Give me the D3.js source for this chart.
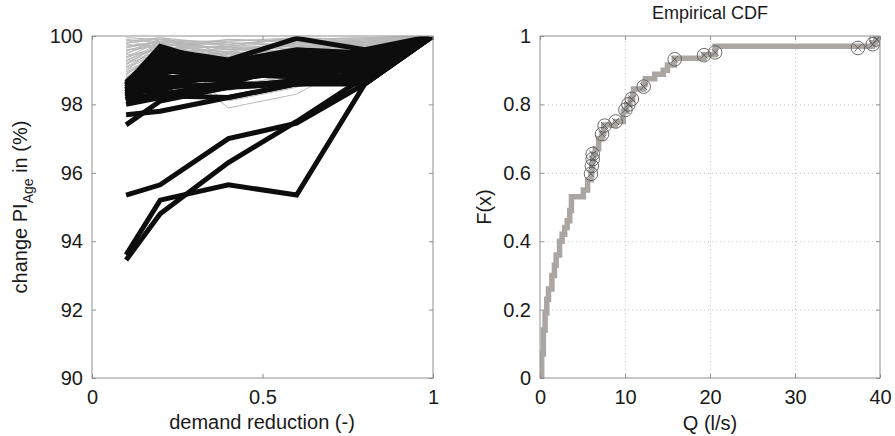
<!DOCTYPE html>
<html>
<head>
<meta charset="utf-8">
<script src="https://cdn.jsdelivr.net/npm/d3@7"></script>
<style>
  body { margin: 0; background: #fff; }
  svg { display: block; font-family: "Liberation Sans", Arial, sans-serif; }
  .tick text { fill: #1a1a1a; font-size: 20px; }
</style>
</head>
<body>
<svg id="chart" width="895" height="436"></svg>
<script>
// left panel: demand reduction vs change of PI_Age
const demandLevels = [0.1, 0.2, 0.4, 0.6, 0.8, 1];

const grayRuns = [
  [99.9, 99.8, 99.85, 99.9, 99.95, 100],
  [99.8, 99.9, 99.7, 99.95, 99.9, 100],
  [99.7, 99.85, 99.6, 99.8, 99.85, 100],
  [99.6, 99.75, 99.65, 99.7, 99.8, 100],
  [99.5, 99.8, 99.5, 99.6, 99.75, 100],
  [99.4, 99.6, 99.55, 99.85, 99.7, 100],
  [99.3, 99.7, 99.4, 99.5, 99.8, 100],
  [99.2, 99.5, 99.45, 99.75, 99.6, 100],
  [99.1, 99.65, 99.3, 99.4, 99.7, 100],
  [99.0, 99.4, 99.5, 99.3, 99.65, 100],
  [98.9, 99.55, 99.2, 99.6, 99.5, 100],
  [98.8, 99.3, 99.35, 99.2, 99.55, 100],
  [98.7, 99.45, 97.9, 98.3, 99.4, 100],
  [98.6, 99.2, 98.1, 98.5, 99.3, 100],
  [98.5, 99.1, 98.9, 98.7, 99.45, 100],
  [98.4, 99.0, 99.1, 99.0, 99.3, 100],
  [98.3, 98.9, 98.6, 98.8, 99.2, 100],
  [99.95, 99.9, 99.8, 99.7, 99.9, 100],
  [99.85, 99.95, 99.75, 99.9, 99.95, 100],
  [99.75, 99.7, 99.9, 99.85, 99.8, 100],
  [99.65, 99.85, 99.85, 99.95, 99.85, 100],
  [99.55, 99.9, 99.6, 99.65, 99.9, 100],
  [99.45, 99.6, 99.7, 99.8, 99.75, 100],
  [99.35, 99.75, 99.65, 99.55, 99.6, 100],
  [99.25, 99.55, 99.25, 99.9, 99.7, 100],
  [99.15, 99.8, 99.45, 99.45, 99.5, 100],
  [99.05, 99.5, 99.15, 99.7, 99.65, 100],
  [98.95, 99.35, 99.55, 99.35, 99.45, 100],
  [98.85, 99.65, 99.0, 99.5, 99.6, 100],
  [98.75, 99.25, 99.3, 99.1, 99.55, 100],
  [99.88, 99.6, 99.9, 99.8, 99.92, 100],
  [99.78, 99.95, 99.5, 99.6, 99.85, 100],
  [99.68, 99.8, 99.75, 99.95, 99.7, 100],
  [99.58, 99.7, 99.8, 99.75, 99.9, 100],
  [99.48, 99.9, 99.4, 99.9, 99.8, 100],
  [99.38, 99.85, 99.6, 99.7, 99.75, 100],
  [99.28, 99.65, 99.7, 99.6, 99.85, 100],
  [99.18, 99.75, 99.35, 99.8, 99.7, 100],
  [99.08, 99.55, 99.6, 99.55, 99.8, 100],
  [98.98, 99.8, 99.4, 99.65, 99.6, 100],
  [98.88, 99.45, 99.65, 99.75, 99.65, 100],
  [98.78, 99.6, 99.2, 99.45, 99.75, 100],
  [98.68, 99.35, 99.5, 99.85, 99.5, 100],
  [98.58, 99.5, 98.8, 98.9, 99.6, 100],
  [98.48, 99.4, 99.25, 99.6, 99.45, 100],
  [98.38, 99.2, 99.4, 99.3, 99.55, 100],
  [98.28, 99.1, 98.4, 99.0, 99.35, 100],
  [98.22, 99.0, 99.2, 99.5, 99.4, 100]
];

const blackRuns = [
  [98.6, 99.7, 99.1, 99.3, 99.4, 100],
  [98.55, 99.6, 99.3, 99.93, 99.6, 100],
  [98.5, 99.5, 99.2, 99.4, 99.5, 100],
  [98.45, 99.4, 99.0, 99.2, 99.3, 100],
  [98.4, 99.3, 99.1, 99.5, 99.2, 100],
  [98.35, 99.2, 98.9, 99.1, 99.1, 100],
  [98.3, 99.1, 99.0, 99.0, 99.0, 100],
  [98.25, 99.0, 98.8, 99.3, 98.9, 100],
  [98.2, 98.9, 99.2, 98.9, 98.8, 100],
  [98.15, 98.8, 98.7, 99.0, 98.7, 100],
  [98.1, 98.7, 98.9, 98.8, 98.6, 100],
  [98.6, 98.5, 98.6, 99.2, 99.0, 100],
  [98.5, 98.6, 98.8, 99.1, 99.2, 100],
  [98.4, 98.4, 99.0, 98.9, 99.1, 100],
  [98.3, 98.2, 98.5, 98.7, 98.8, 100],
  [98.2, 98.3, 98.6, 98.6, 98.7, 100],
  [98.1, 98.25, 98.2, 98.6, 98.6, 100],
  [98.0, 98.2, 98.5, 98.7, 98.9, 100],
  [98.65, 99.55, 99.25, 99.6, 99.5, 100],
  [98.55, 99.45, 99.15, 99.45, 99.35, 100],
  [98.45, 99.35, 98.95, 99.15, 99.25, 100],
  [98.35, 99.25, 99.05, 99.25, 99.05, 100],
  [98.25, 99.15, 98.85, 99.05, 98.95, 100],
  [98.5, 98.95, 99.1, 99.35, 99.15, 100],
  [98.3, 98.75, 98.95, 99.2, 98.85, 100],
  [97.7, 97.8, 98.2, 98.6, 98.7, 100],
  [97.4, 98.1, 98.5, 98.6, 98.9, 100],
  [95.35, 95.65, 97.0, 97.45, 98.6, 100],
  [93.6, 95.2, 95.65, 95.35, 98.6, 100],
  [93.45, 94.8, 96.3, 97.5, 98.8, 100]
];

const leftXTicks = [0, 0.5, 1];
const leftYTicks = [90, 92, 94, 96, 98, 100];

// right panel: empirical CDF of Q
const cdfQ = [0.1, 0.2, 0.4, 0.6, 0.8, 1.0, 1.4, 1.7, 1.9, 2.3, 2.6, 2.9, 3.2, 3.5, 3.7,
  5.1, 5.6, 6.0, 6.1, 6.2, 6.3, 6.5, 6.9, 7.3, 7.5, 8.9, 9.8, 10.2, 10.6, 10.9, 11.0,
  12.2, 12.4, 13.5, 14.5, 15.0, 15.8, 19.3, 20.6, 37.4, 39.1, 39.5, 39.7];
const cdfF = [0, 0.07, 0.14, 0.19, 0.23, 0.26, 0.30, 0.33, 0.36, 0.40, 0.42, 0.44, 0.46, 0.49, 0.53,
  0.55, 0.58, 0.60, 0.62, 0.64, 0.655, 0.67, 0.70, 0.715, 0.74, 0.75, 0.78, 0.80, 0.815, 0.83, 0.845,
  0.86, 0.875, 0.888, 0.90, 0.915, 0.935, 0.945, 0.97, 0.97, 0.98, 0.99, 1.0];

const markQ = [6.0, 6.1, 6.2, 6.2, 7.3, 7.6, 8.9, 10.05, 10.4, 10.8, 12.2, 15.85, 19.3, 20.6, 37.4, 39.15, 39.6];
const markF = [0.597, 0.62, 0.64, 0.655, 0.713, 0.738, 0.75, 0.784, 0.80, 0.816, 0.852, 0.932, 0.944, 0.952, 0.965, 0.976, 0.99];

const qTicks = [0, 10, 20, 30, 40];
const fTicks = [0, 0.2, 0.4, 0.6, 0.8, 1];

const svg = d3.select("#chart");
const axisColor = "#8f8f8f";

function styleAxis(g) {
  g.select(".domain").remove();
  g.selectAll(".tick line").attr("stroke", axisColor);
}

function frame(left, top, w, h, name) {
  const g = svg.append("g").attr("transform", `translate(${left},${top})`);
  svg.append("clipPath").attr("id", name)
    .append("rect").attr("width", w).attr("height", h);
  return g;
}

// ---------- left panel ----------
const L = {left: 92, top: 36, w: 341, h: 342};
const gl = frame(L.left, L.top, L.w, L.h, "clipL");

const xl = d3.scaleLinear().domain([0, 1]).range([0, L.w]);
const yl = d3.scaleLinear().domain([90, 100]).range([L.h, 0]);

const runLine = d3.line()
  .x((d, i) => xl(demandLevels[i]))
  .y(d => yl(d));

const plotL = gl.append("g").attr("clip-path", "url(#clipL)");
plotL.selectAll(".gray").data(grayRuns).enter().append("path")
  .attr("d", runLine)
  .attr("fill", "none")
  .attr("stroke", "#b8b8b8")
  .attr("stroke-width", 1);
plotL.selectAll(".black").data(blackRuns).enter().append("path")
  .attr("d", runLine)
  .attr("fill", "none")
  .attr("stroke", "#0d0d0d")
  .attr("stroke-width", 5)
  .attr("stroke-linejoin", "miter");

gl.append("rect").attr("width", L.w).attr("height", L.h)
  .attr("fill", "none").attr("stroke", axisColor);

gl.append("g").attr("transform", `translate(0,${L.h})`)
  .call(d3.axisBottom(xl).tickValues(leftXTicks).tickSize(-4).tickPadding(12).tickFormat(d3.format("")))
  .call(styleAxis);
gl.append("g")
  .call(d3.axisTop(xl).tickValues(leftXTicks).tickSize(-4).tickFormat(""))
  .call(styleAxis);
gl.append("g")
  .call(d3.axisLeft(yl).tickValues(leftYTicks).tickSize(-4).tickPadding(9))
  .call(styleAxis);
gl.append("g").attr("transform", `translate(${L.w},0)`)
  .call(d3.axisRight(yl).tickValues(leftYTicks).tickSize(-4).tickFormat(""))
  .call(styleAxis);

svg.append("text")
  .attr("x", 262).attr("y", 429)
  .attr("text-anchor", "middle")
  .attr("font-size", 20).attr("fill", "#1a1a1a")
  .text("demand reduction (-)");

const yLab = svg.append("text")
  .attr("transform", "translate(27,207) rotate(-90)")
  .attr("text-anchor", "middle")
  .attr("font-size", 20).attr("fill", "#1a1a1a");
yLab.append("tspan").text("change PI");
yLab.append("tspan").attr("dy", 6).attr("font-size", 14).text("Age");
yLab.append("tspan").attr("dy", -6).text(" in (%)");

// ---------- right panel ----------
const R = {left: 540, top: 36, w: 340, h: 342};
const gr = frame(R.left, R.top, R.w, R.h, "clipR");

const xr = d3.scaleLinear().domain([0, 40]).range([0, R.w]);
const yr = d3.scaleLinear().domain([0, 1]).range([R.h, 0]);

// dotted grid
gr.append("g").attr("transform", `translate(0,${R.h})`)
  .call(d3.axisBottom(xr).tickValues(qTicks.slice(1, -1)).tickSize(-R.h).tickFormat(""))
  .call(g => {
    g.select(".domain").remove();
    g.selectAll(".tick line").attr("stroke", "#c4c4c4").attr("stroke-dasharray", "1,3");
  });
gr.append("g")
  .call(d3.axisLeft(yr).tickValues(fTicks.slice(1, -1)).tickSize(-R.w).tickFormat(""))
  .call(g => {
    g.select(".domain").remove();
    g.selectAll(".tick line").attr("stroke", "#c4c4c4").attr("stroke-dasharray", "1,3");
  });

const plotR = gr.append("g").attr("clip-path", "url(#clipR)");
const stairs = d3.line()
  .x((d, i) => xr(cdfQ[i]))
  .y(d => yr(d))
  .curve(d3.curveStepAfter);
plotR.append("path")
  .datum(cdfF)
  .attr("d", stairs)
  .attr("fill", "none")
  .attr("stroke", "#aaa7a2")
  .attr("stroke-width", 5.5);

const marks = plotR.selectAll(".mark").data(markQ).enter().append("g")
  .attr("transform", (d, i) => `translate(${xr(d)},${yr(markF[i])})`);
marks.append("circle").attr("r", 6.8)
  .attr("fill", "none").attr("stroke", "#5a5a5a").attr("stroke-width", 0.9);
marks.append("path").attr("d", "M-3.5,-3.5L3.5,3.5M-3.5,3.5L3.5,-3.5")
  .attr("stroke", "#5a5a5a").attr("stroke-width", 0.9);

gr.append("rect").attr("width", R.w).attr("height", R.h)
  .attr("fill", "none").attr("stroke", axisColor);

gr.append("g").attr("transform", `translate(0,${R.h})`)
  .call(d3.axisBottom(xr).tickValues(qTicks).tickSize(-4).tickPadding(12))
  .call(styleAxis);
gr.append("g")
  .call(d3.axisTop(xr).tickValues(qTicks).tickSize(-4).tickFormat(""))
  .call(styleAxis);
gr.append("g")
  .call(d3.axisLeft(yr).tickValues(fTicks).tickSize(-4).tickPadding(9).tickFormat(d3.format("")))
  .call(styleAxis);
gr.append("g").attr("transform", `translate(${R.w},0)`)
  .call(d3.axisRight(yr).tickValues(fTicks).tickSize(-4).tickFormat(""))
  .call(styleAxis);

svg.append("text")
  .attr("x", 710).attr("y", 19)
  .attr("text-anchor", "middle")
  .attr("font-size", 18).attr("fill", "#1a1a1a")
  .text("Empirical CDF");
svg.append("text")
  .attr("x", 710).attr("y", 430)
  .attr("text-anchor", "middle")
  .attr("font-size", 20).attr("fill", "#1a1a1a")
  .text("Q (l/s)");
svg.append("text")
  .attr("transform", "translate(491,207) rotate(-90)")
  .attr("text-anchor", "middle")
  .attr("font-size", 20).attr("fill", "#1a1a1a")
  .text("F(x)");
</script>
</body>
</html>
